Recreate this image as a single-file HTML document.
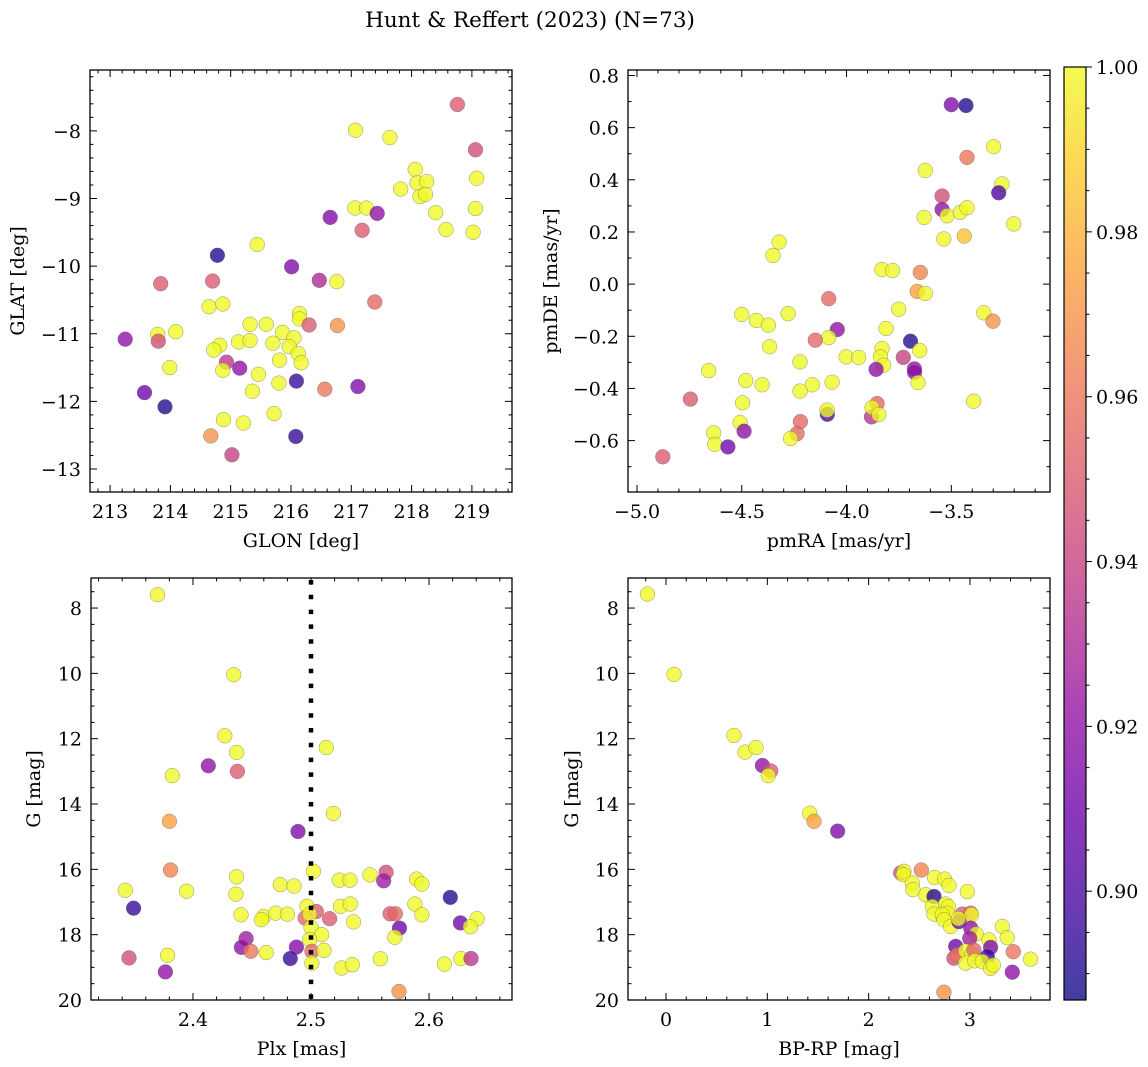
<!DOCTYPE html>
<html><head><meta charset="utf-8">
<style>
html,body{margin:0;padding:0;background:#fff;}
svg{display:block;font-family:"DejaVu Serif","Liberation Serif",serif;}
</style></head>
<body>
<svg id="fig" width="1148" height="1067" viewBox="0 0 1148 1067" xmlns="http://www.w3.org/2000/svg">
<text x="530" y="27" font-size="21.5" text-anchor="middle">Hunt &amp; Reffert (2023) (N=73)</text>
</svg>
<script>
// ---- Panel 1: GLON vs GLAT ----
const p1Glon=[218.76,219.06,217.07,217.64,218.06,218.09,218.25,218.14,218.23,217.82,219.08,218.40,219.06,218.57,219.02,217.06,217.25,217.43,216.65,217.18,215.44,214.78,216.01,216.47,216.76,213.84,214.70,214.64,214.87,217.39,216.14,216.14,215.32,215.59,216.30,216.77,214.09,213.79,213.25,213.80,215.13,215.32,215.86,216.05,214.82,214.72,215.70,215.97,216.12,216.17,215.81,214.93,215.15,213.99,214.87,215.46,216.09,215.80,217.11,213.57,216.56,215.36,215.72,213.91,214.88,215.21,216.08,214.67,215.02];
const p1Glat=[-7.61,-8.28,-7.99,-8.10,-8.57,-8.77,-8.75,-8.97,-8.94,-8.86,-8.70,-9.21,-9.15,-9.46,-9.50,-9.14,-9.14,-9.22,-9.28,-9.47,-9.68,-9.84,-10.01,-10.21,-10.23,-10.26,-10.22,-10.60,-10.56,-10.53,-10.70,-10.78,-10.86,-10.86,-10.87,-10.88,-10.97,-11.01,-11.08,-11.11,-11.12,-11.10,-10.98,-11.06,-11.17,-11.24,-11.14,-11.19,-11.29,-11.43,-11.39,-11.42,-11.51,-11.50,-11.54,-11.60,-11.70,-11.73,-11.78,-11.87,-11.82,-11.85,-12.18,-12.08,-12.27,-12.32,-12.52,-12.51,-12.79];
const p1Prob=[0.95,0.945,1,1,1,1,1,1,1,1,1,1,1,1,1,1,1,0.92,0.915,0.95,1,0.89,0.915,0.93,1,0.95,0.95,1,1,0.955,1,1,1,1,0.95,0.97,1,1,0.92,0.945,1,1,1,1,1,1,1,1,1,1,1,0.935,0.92,1,1,1,0.895,1,0.915,0.91,0.96,1,1,0.89,1,1,0.895,0.97,0.94];
// ---- Panel 2: pmRA vs pmDE ----
const p2Pmra=[-3.500,-3.430,-3.298,-3.425,-3.624,-3.258,-3.274,-3.544,-3.544,-3.520,-3.630,-3.457,-3.425,-3.202,-3.536,-3.438,-4.322,-4.351,-3.831,-3.780,-3.648,-3.663,-3.624,-4.085,-3.751,-4.500,-4.279,-4.430,-4.373,-3.345,-3.301,-3.811,-4.044,-4.085,-4.149,-3.695,-4.367,-3.831,-3.651,-4.002,-3.942,-3.729,-3.838,-3.823,-3.859,-3.676,-3.675,-3.659,-4.222,-4.658,-4.481,-4.403,-4.163,-4.069,-4.222,-4.745,-4.496,-3.393,-3.854,-3.881,-3.878,-3.846,-4.092,-4.093,-4.508,-4.489,-4.220,-4.236,-4.267,-4.634,-4.629,-4.566,-4.877];
const p2Pmde=[0.688,0.685,0.527,0.486,0.436,0.384,0.350,0.338,0.286,0.262,0.256,0.275,0.293,0.231,0.173,0.184,0.161,0.110,0.056,0.052,0.045,-0.028,-0.036,-0.056,-0.096,-0.116,-0.113,-0.139,-0.157,-0.110,-0.142,-0.170,-0.174,-0.205,-0.215,-0.219,-0.240,-0.247,-0.254,-0.279,-0.281,-0.281,-0.279,-0.311,-0.327,-0.325,-0.338,-0.377,-0.298,-0.332,-0.370,-0.386,-0.386,-0.376,-0.410,-0.441,-0.455,-0.449,-0.458,-0.509,-0.473,-0.500,-0.499,-0.483,-0.531,-0.564,-0.527,-0.573,-0.592,-0.570,-0.614,-0.624,-0.662];
const p2Prob=[0.915,0.89,1,0.96,1,1,0.9,0.945,0.92,1,1,1,1,1,1,0.985,1,1,1,1,0.965,0.975,1,0.955,1,1,1,1,1,1,0.97,1,0.92,1,0.955,0.89,1,1,1,1,1,0.94,1,1,0.92,0.92,0.92,1,1,1,1,1,1,1,1,0.95,1,1,0.955,0.935,1,1,0.9,1,1,0.92,0.955,0.955,1,1,1,0.91,0.95];
// ---- Panel 3: Plx vs G ----
const p3Plx=[2.370,2.4345,2.427,2.437,2.513,2.413,2.4376,2.3825,2.519,2.380,2.489,2.381,2.502,2.437,2.5636,2.5616,2.550,2.5895,2.594,2.524,2.533,2.474,2.4856,2.3427,2.3946,2.4364,2.618,2.3497,2.4966,2.525,2.5333,2.588,2.594,2.4407,2.460,2.458,2.470,2.480,2.5045,2.495,2.4989,2.5158,2.536,2.567,2.5715,2.6266,2.6407,2.635,2.575,2.500,2.509,2.571,2.445,2.441,2.449,2.462,2.4876,2.4989,2.5008,2.511,2.4825,2.3458,2.3785,2.3766,2.5008,2.526,2.535,2.5588,2.613,2.627,2.6356,2.5746];
const p3G=[7.59,10.04,11.91,12.42,12.27,12.83,13.0,13.13,14.29,14.53,14.84,16.02,16.06,16.23,16.09,16.35,16.17,16.30,16.45,16.33,16.33,16.47,16.51,16.64,16.67,16.76,16.86,17.19,17.13,17.13,17.06,17.06,17.39,17.39,17.44,17.54,17.34,17.37,17.29,17.49,17.37,17.51,17.61,17.36,17.36,17.64,17.51,17.76,17.80,17.78,18.0,18.08,18.12,18.39,18.51,18.55,18.38,18.15,18.51,18.48,18.73,18.71,18.63,19.14,18.87,19.02,18.92,18.74,18.90,18.73,18.73,19.74];
const p3Prob=[1,1,1,1,1,0.92,0.95,1,1,0.975,0.915,0.965,1,1,0.945,0.925,1,1,1,1,1,1,1,1,1,1,0.89,0.895,1,1,1,1,1,1,1,1,1,1,0.95,0.955,1,0.95,1,0.95,0.955,0.91,1,1,0.91,1,1,1,0.925,0.92,0.96,1,0.915,1,0.955,1,0.895,0.945,1,0.92,1,1,1,1,1,1,0.935,0.97];
// ---- Panel 4: BP-RP vs G ----
const p4Color=[-0.184,0.079,0.671,0.780,0.888,0.951,1.033,1.010,1.418,1.461,1.694,2.316,2.349,2.342,2.520,2.431,2.437,2.651,2.75,2.793,2.974,2.563,2.645,2.628,2.645,2.760,2.786,2.776,2.727,2.743,2.809,2.924,3.007,3.016,2.891,2.885,3.007,3.062,2.997,3.188,3.319,3.368,2.859,2.842,2.875,2.957,3.016,3.039,3.204,3.171,2.957,3.049,3.122,3.204,3.230,3.428,3.418,3.599,2.743];
const p4G=[7.57,10.03,11.90,12.41,12.27,12.82,12.99,13.13,14.28,14.53,14.83,16.11,16.06,16.16,16.02,16.42,16.62,16.25,16.30,16.49,16.68,16.78,16.83,17.14,17.37,17.06,17.14,17.34,17.39,17.54,17.75,17.37,17.34,17.39,17.60,17.51,17.80,17.98,18.11,18.16,17.75,18.09,18.36,18.72,18.62,18.50,18.60,18.47,18.39,18.67,18.87,18.80,18.82,19.03,18.93,18.52,19.15,18.75,19.76];
const p4Prob=[1,1,1,1,1,0.92,0.95,1,1,0.975,0.915,0.945,1,1,0.965,1,1,1,1,1,1,1,0.89,1,1,1,1,1,1,1,1,0.95,0.955,1,0.91,1,0.92,1,0.925,1,1,1,0.91,0.945,0.96,1,1,0.955,0.915,0.895,1,1,1,1,1,0.96,0.92,1,0.97];
// ---- tick labels ----
const p1XTicks=[213,214,215,216,217,218,219];
const p1YTicks=[-8,-9,-10,-11,-12,-13];
const p2XTicks=[-5.0,-4.5,-4.0,-3.5];
const p2YTicks=[0.8,0.6,0.4,0.2,0.0,-0.2,-0.4,-0.6];
const p3XTicks=[2.4,2.5,2.6];
const gTicks=[8,10,12,14,16,18,20];
const p4XTicks=[0,1,2,3];
const cbTicks=[0.90,0.92,0.94,0.96,0.98,1.00];
const plxCut=2.5;
const cMin=0.8868, cMax=1.0;

const NS="http://www.w3.org/2000/svg";
const svg=document.getElementById('fig');
const FS=19;
function mk(tag,attrs,parent){const e=document.createElementNS(NS,tag);for(const k in attrs)e.setAttribute(k,attrs[k]);(parent||svg).appendChild(e);return e;}
const stops=["#0d0887","#41049d","#6a00a8","#8f0da4","#b12a90","#cc4778","#e16462","#f2844b","#fca636","#fcce25","#f0f921"];
function hex(h){return [parseInt(h.substr(1,2),16),parseInt(h.substr(3,2),16),parseInt(h.substr(5,2),16)];}
function plasma(t){t=Math.max(0,Math.min(1,t));const f=t*10,i=Math.min(9,Math.floor(f)),u=f-i;const a=hex(stops[i]),b=hex(stops[i+1]);return `rgb(${a.map((v,k)=>Math.round(v+(b[k]-v)*u)).join(',')})`;}
function cmap(v){return plasma((v-cMin)/(cMax-cMin));}
function fmt(v,d){return (v<0?'\u2212':'')+Math.abs(v).toFixed(d);}

function panel(cfg){
  const g=mk('g',{});
  
  
  const sx=v=>cfg.L+(v-cfg.xmin)/(cfg.xmax-cfg.xmin)*(cfg.R-cfg.L);
  const sy=v=>cfg.T+(v-cfg.ytop)/(cfg.ybot-cfg.ytop)*(cfg.B-cfg.T);
  const pg=mk('g',{},g);
  
  
  for(let i=0;i<cfg.xs.length;i++){
    const c=mk('circle',{cx:sx(cfg.xs[i]).toFixed(1),cy:sy(cfg.ys[i]).toFixed(1),r:7.4,fill:cmap(cfg.cs[i]),'fill-opacity':0.78,stroke:'#666','stroke-width':0.5,'stroke-opacity':0.7},pg);
    
    
  }
  if(cfg.extra)cfg.extra(g,sx,sy);
  const fr=mk('rect',{x:cfg.L,y:cfg.T,width:cfg.R-cfg.L,height:cfg.B-cfg.T,fill:'none',stroke:'#000','stroke-width':1.3},g);
  
  
  const tg=mk('g',{stroke:'#000','stroke-width':1},g);
  const x0=Math.min(cfg.xmin,cfg.xmax),x1=Math.max(cfg.xmin,cfg.xmax);
  for(let k=Math.ceil(x0/cfg.xminor-1e-6);k*cfg.xminor<=x1+1e-9;k++){
    const v=k*cfg.xminor,x=sx(v);
    const major=Math.abs(v/cfg.xmajor-Math.round(v/cfg.xmajor))<1e-6;const len=major?7:3.5;
    mk('line',{x1:x,x2:x,y1:cfg.B,y2:cfg.B-len},tg);mk('line',{x1:x,x2:x,y1:cfg.T,y2:cfg.T+len},tg);
  }
  const y0=Math.min(cfg.ytop,cfg.ybot),y1=Math.max(cfg.ytop,cfg.ybot);
  for(let k=Math.ceil(y0/cfg.yminor-1e-6);k*cfg.yminor<=y1+1e-9;k++){
    const v=k*cfg.yminor,y=sy(v);
    const major=Math.abs(v/cfg.ymajor-Math.round(v/cfg.ymajor))<1e-6;const len=major?7:3.5;
    mk('line',{y1:y,y2:y,x1:cfg.L,x2:cfg.L+len},tg);mk('line',{y1:y,y2:y,x1:cfg.R,x2:cfg.R-len},tg);
  }
  cfg.xt.forEach(v=>{const t=mk('text',{x:sx(v),y:cfg.B+26,'font-size':FS,'text-anchor':'middle'},g);t.textContent=fmt(v,cfg.xd);
    
    });
  cfg.yt.forEach(v=>{const t=mk('text',{x:cfg.L-9,y:sy(v)+7,'font-size':FS,'text-anchor':'end'},g);t.textContent=fmt(v,cfg.yd);
    
    });
  const xl=mk('text',{x:(cfg.L+cfg.R)/2,y:cfg.B+55,'font-size':FS,'text-anchor':'middle'},g);xl.textContent=cfg.xlabel;
  
  
  const cy=(cfg.T+cfg.B)/2;
  const yl=mk('text',{x:cfg.ylx,y:cy,'font-size':FS,'text-anchor':'middle',transform:`rotate(-90 ${cfg.ylx} ${cy})`},g);yl.textContent=cfg.ylabel;
  
  
}

panel({name:'glon-glat-panel',L:90,R:512,T:70,B:492,xmin:212.667,xmax:219.665,ytop:-7.10,ybot:-13.34,xs:p1Glon,ys:p1Glat,cs:p1Prob,
  xmajor:1,xminor:0.2,ymajor:1,yminor:0.2,xt:p1XTicks,yt:p1YTicks,xd:0,yd:0,xlabel:'GLON [deg]',ylabel:'GLAT [deg]',ylx:24});
panel({name:'pm-panel',L:628,R:1050,T:70,B:492,xmin:-5.043,xmax:-3.029,ytop:0.821,ybot:-0.797,xs:p2Pmra,ys:p2Pmde,cs:p2Prob,
  xmajor:0.5,xminor:0.1,ymajor:0.2,yminor:0.1,xt:p2XTicks,yt:p2YTicks,xd:1,yd:1,xlabel:'pmRA [mas/yr]',ylabel:'pmDE [mas/yr]',ylx:557});
panel({name:'plx-g-panel',L:91,R:512,T:578,B:1000,xmin:2.3136,xmax:2.6703,ytop:7.08,ybot:20.0,xs:p3Plx,ys:p3G,cs:p3Prob,
  xmajor:0.1,xminor:0.02,ymajor:2,yminor:0.5,xt:p3XTicks,yt:gTicks,xd:1,yd:0,xlabel:'Plx [mas]',ylabel:'G [mag]',ylx:40,
  extra:(g,sx,sy)=>{const l=mk('line',{x1:sx(plxCut),x2:sx(plxCut),y1:580,y2:1000,stroke:'#000','stroke-width':4.5,'stroke-dasharray':'4.5 10.3'},g);
    
    }});
panel({name:'cmd-panel',L:628,R:1050,T:578,B:1000,xmin:-0.375,xmax:3.79,ytop:7.08,ybot:20.0,xs:p4Color,ys:p4G,cs:p4Prob,
  xmajor:1,xminor:0.2,ymajor:2,yminor:0.5,xt:p4XTicks,yt:gTicks,xd:0,yd:0,xlabel:'BP-RP [mag]',ylabel:'G [mag]',ylx:578});

// colorbar
(function(){
  const L=1064,R=1086,T=67,B=1000;
  const g=mk('g',{});
  
  
  const defs=mk('defs',{},g);
  const grad=mk('linearGradient',{id:'cbg',x1:0,y1:1,x2:0,y2:0},defs);
  for(let i=0;i<=20;i++){mk('stop',{offset:(i/20),'stop-color':plasma(i/20)},grad);}
  mk('rect',{x:L,y:T,width:R-L,height:B-T,fill:'url(#cbg)','fill-opacity':0.78},g);
  mk('rect',{x:L,y:T,width:R-L,height:B-T,fill:'none',stroke:'#000','stroke-width':1.2},g);
  const sy=v=>B-(v-cMin)/(cMax-cMin)*(B-T);
  for(let k=Math.ceil(cMin/0.005);k*0.005<=cMax+1e-9;k++){const v=k*0.005,y=sy(v);const major=Math.abs(v/0.02-Math.round(v/0.02))<1e-6;
    mk('line',{x1:R,x2:R+(major?6:3.5),y1:y,y2:y,stroke:'#000','stroke-width':1},g);}
  cbTicks.forEach(v=>{const t=mk('text',{x:R+10,y:sy(v)+7,'font-size':FS},g);t.textContent=v.toFixed(2);
    
    });
})();
</script>
</body></html>
